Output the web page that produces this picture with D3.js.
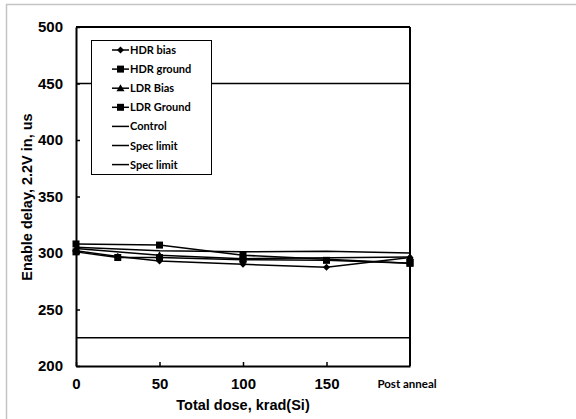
<!DOCTYPE html>
<html><head><meta charset="utf-8">
<script src="https://cdn.jsdelivr.net/npm/d3@7"></script>
<style>body{margin:0;background:#fff}svg{display:block}</style>
</head><body>
<svg id="c" width="576" height="419"></svg>
<script>
const xTicks = [0, 50, 100, 150];
const postAnnealX = 200;
const yTicks = [200, 250, 300, 350, 400, 450, 500];
const hdrBiasX = [0, 25, 50, 100, 150, 200];
const hdrBias = [302, 297, 293, 290, 287.5, 296];
const hdrGroundX = [0, 25, 50, 100, 150, 200];
const hdrGround = [301, 296, 296, 294, 293.5, 291];
const ldrBiasX = [0, 50, 100, 200];
const ldrBias = [304, 298, 295, 296.5];
const ldrGroundX = [0, 50, 100, 200];
const ldrGround = [308, 307, 298, 291];
const controlX = [0, 50, 100, 150, 200];
const control = [305, 302, 301, 301.5, 300];
const specHigh = 450, specLow = 225;
const legendLabels = ["HDR bias", "HDR ground", "LDR Bias", "LDR Ground", "Control", "Spec limit", "Spec limit"];
const legendMarkers = ["diamond", "square", "triangle", "square", null, null, null];

const svg = d3.select("#c");
const L = 76, R = 410, T = 27, B = 366;
const x = d3.scaleLinear().domain([0, 200]).range([L, R]);
const y = d3.scaleLinear().domain([200, 500]).range([B, T]);

// outer frame
svg.append("rect").attr("x", 6.5).attr("y", 4.5).attr("width", 600).attr("height", 600)
  .attr("fill", "none").attr("stroke", "#c4c4c4").attr("stroke-width", 1.5);

const bold = "'Liberation Sans', Arial, sans-serif";
const cal = "Lato, 'Open Sans', sans-serif";

// spec limits
[specHigh, specLow].forEach(v => {
  svg.append("line").attr("x1", x(0)).attr("x2", x(200)).attr("y1", y(v)).attr("y2", y(v))
    .attr("stroke", "#000").attr("stroke-width", 1.5);
});

// axes
const yAxis = d3.axisLeft(y).tickValues(yTicks).tickSizeInner(-4).tickSizeOuter(0).tickPadding(13);
const gy = svg.append("g").attr("transform", `translate(${L},0)`).call(yAxis);
gy.select(".domain").attr("stroke-width", 2);
gy.selectAll(".tick line").attr("stroke-width", 1.5);
gy.selectAll("text").attr("font-family", bold).attr("font-weight", "bold").attr("font-size", 15).attr("fill", "#000");

const xAxis = d3.axisBottom(x).tickValues(xTicks).tickSizeInner(-4).tickSizeOuter(0).tickPadding(12);
const gx = svg.append("g").attr("transform", `translate(0,${B})`).call(xAxis);
gx.select(".domain").attr("stroke-width", 2);
gx.selectAll(".tick line").attr("stroke-width", 1.5);
gx.selectAll("text").attr("font-family", bold).attr("font-weight", "bold").attr("font-size", 15).attr("fill", "#000");
svg.append("text").attr("x", x(postAnnealX) - 3).attr("y", 388).attr("text-anchor", "middle")
  .attr("font-family", cal).attr("font-weight", "bold").attr("font-size", 11.5).text("Post anneal");

// top and right frame of plot
svg.append("line").attr("x1", L).attr("x2", R).attr("y1", T).attr("y2", T).attr("stroke", "#000").attr("stroke-width", 2);
svg.append("line").attr("x1", R).attr("x2", R).attr("y1", T).attr("y2", B).attr("stroke", "#000").attr("stroke-width", 2);

// axis titles
svg.append("text").attr("x", x(100)).attr("y", 410).attr("text-anchor", "middle")
  .attr("font-family", bold).attr("font-weight", "bold").attr("font-size", 14.5).text("Total dose, krad(Si)");
svg.append("text").attr("transform", `translate(32,197) rotate(-90)`).attr("text-anchor", "middle")
  .attr("font-family", bold).attr("font-weight", "bold").attr("font-size", 14.5).text("Enable delay, 2.2V in, us");

// markers
function marker(g, type, cx, cy) {
  if (type === "diamond") g.append("path").attr("d", `M${cx},${cy-3.5}L${cx+3.5},${cy}L${cx},${cy+3.5}L${cx-3.5},${cy}Z`).attr("fill", "#000");
  else if (type === "square") g.append("rect").attr("x", cx-3.5).attr("y", cy-3.5).attr("width", 7).attr("height", 7).attr("fill", "#000");
  else if (type === "triangle") g.append("path").attr("d", `M${cx},${cy-4}L${cx+4},${cy+3}L${cx-4},${cy+3}Z`).attr("fill", "#000");
}

const series = [
  {xs: controlX, ys: control, m: null},
  {xs: ldrGroundX, ys: ldrGround, m: "square"},
  {xs: ldrBiasX, ys: ldrBias, m: "triangle"},
  {xs: hdrGroundX, ys: hdrGround, m: "square"},
  {xs: hdrBiasX, ys: hdrBias, m: "diamond"}
];
const line = d3.line().x(d => x(d[0])).y(d => y(d[1]));
series.forEach(s => {
  const pts = s.xs.map((v, i) => [v, s.ys[i]]);
  svg.append("path").attr("d", line(pts)).attr("fill", "none").attr("stroke", "#000").attr("stroke-width", 1.5);
  if (s.m) { const g = svg.append("g"); pts.forEach(p => marker(g, s.m, x(p[0]), y(p[1]))); }
});

// legend
const lg = svg.append("g");
lg.append("rect").attr("x", 91.5).attr("y", 40.5).attr("width", 120).attr("height", 134)
  .attr("fill", "#fff").attr("stroke", "#000").attr("stroke-width", 1);
legendLabels.forEach((lab, i) => {
  const yy = 50 + i * 19.1;
  lg.append("line").attr("x1", 112).attr("x2", 129).attr("y1", yy).attr("y2", yy).attr("stroke", "#000").attr("stroke-width", 1.5);
  if (legendMarkers[i]) marker(lg, legendMarkers[i], 120.5, yy);
  lg.append("text").attr("x", 130).attr("y", yy + 4).attr("font-family", cal).attr("font-weight", "bold")
    .attr("font-size", 11).text(lab);
});
</script>
</body></html>
